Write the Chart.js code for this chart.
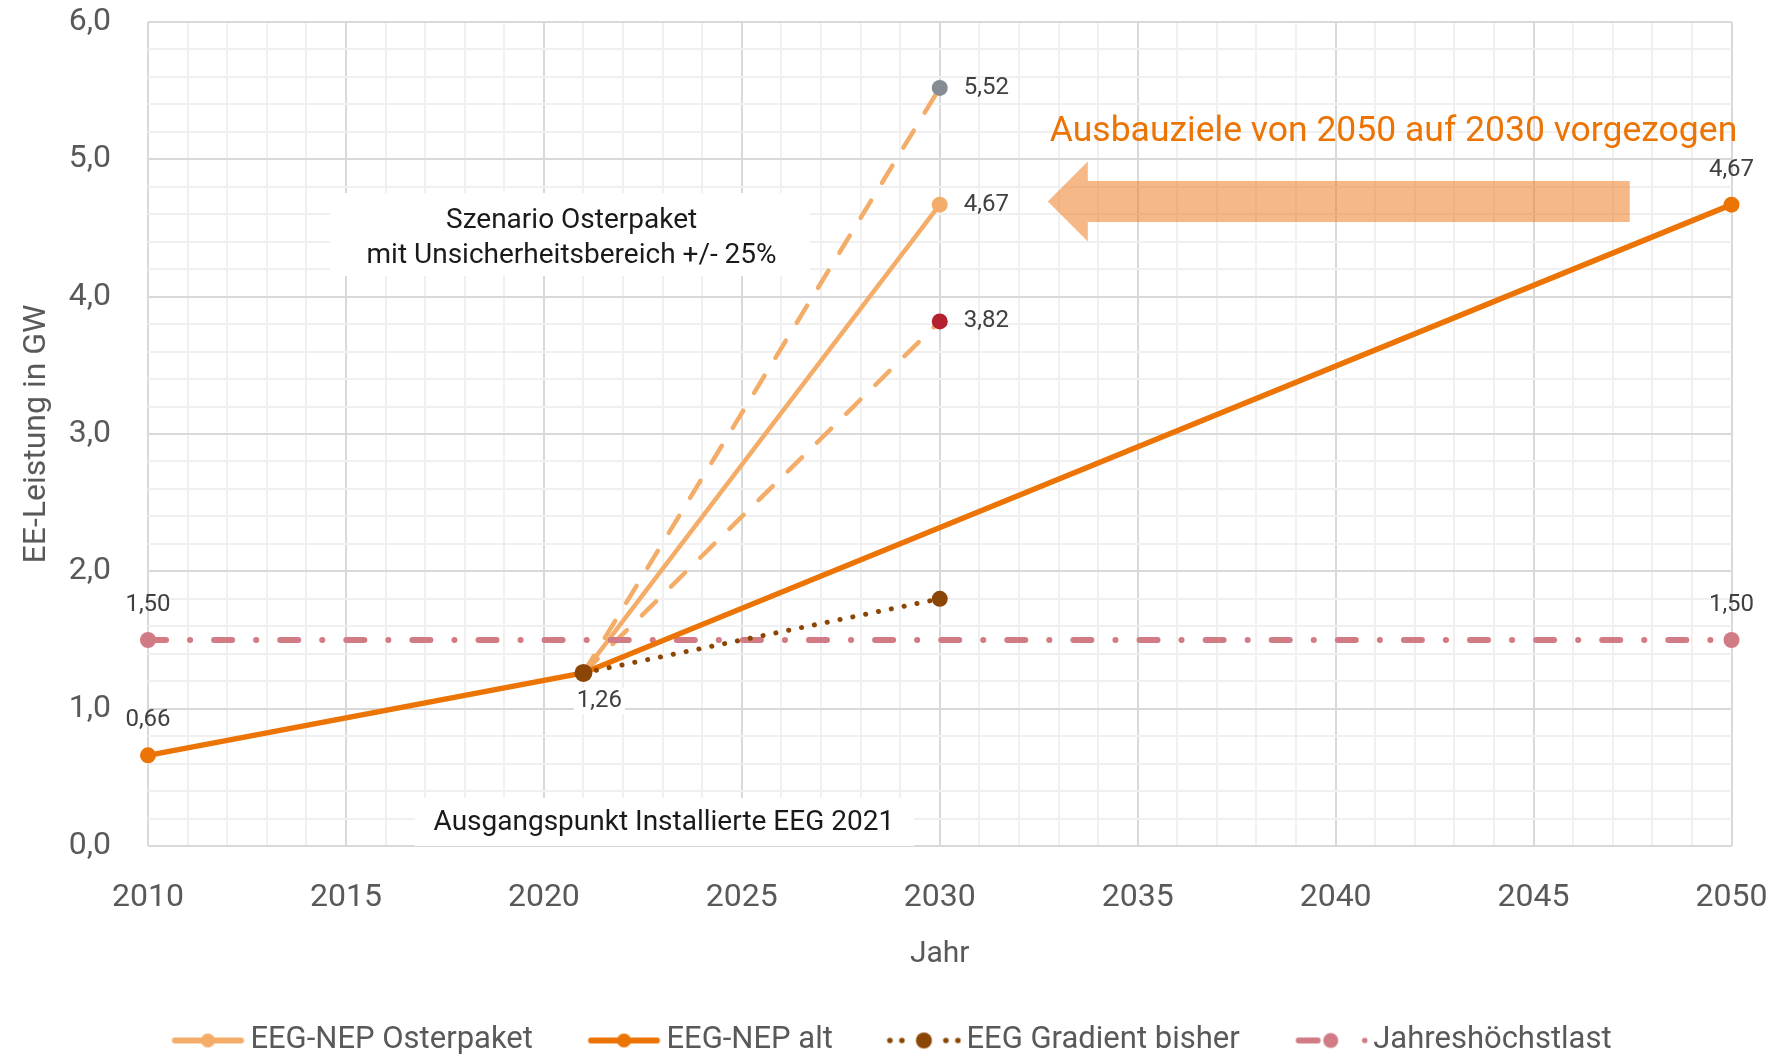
<!DOCTYPE html>
<html>
<head>
<meta charset="utf-8">
<script src="https://cdn.jsdelivr.net/npm/chart.js@4.4.1/dist/chart.umd.min.js"></script>
<style>
  html, body { margin: 0; padding: 0; background: #fff; }
  #wrap { width: 1774px; height: 1056px; }
</style>
</head>
<body>
<div id="wrap"><canvas id="eeChart"></canvas></div>
<script>
// EE-Leistung: Osterpaket vs. alter NEP-Pfad (GW)

const yearsAlt = [2010, 2021, 2050];
const nepAlt = [0.66, 1.26, 4.67];

const yearsOster = [2021, 2030];
const osterpaket = [1.26, 4.67];
const osterHoch = [1.26, 5.52];
const osterTief = [1.26, 3.82];

const yearsGradient = [2021, 2030];
const gradientBisher = [1.26, 1.80];

const yearsLast = [2010, 2050];
const jahreshoechstlast = [1.50, 1.50];

const legendNames = ['EEG-NEP Osterpaket', 'EEG-NEP alt', 'EEG Gradient bisher', 'Jahreshöchstlast'];

const C_OSTER = '#f4ad69';
const C_ALT = '#ec7404';
const C_BROWN = '#8b4606';
const C_PINK = '#d17b85';
const C_GREY = '#868c94';
const C_RED = '#b4202f';
const C_TEXT = '#595959';
const FONT = 'Roboto, "Noto Sans", sans-serif';

function pts(xs, ys) {
  return xs.map((x, i) => ({ x, y: ys[i] }));
}

function isWhole(v, step) {
  return Math.abs(v / step - Math.round(v / step)) < 1e-6;
}

function fmt(v, digits) {
  return v.toFixed(digits).replace('.', ',');
}

// legend icon: line sample + marker, drawn right of centre so text gap matches
function legendIcon(kind) {
  const c = document.createElement('canvas');
  c.width = 136;
  c.height = 24;
  const g = c.getContext('2d');
  const cx = 98.5, cy = 12;
  g.lineCap = 'round';
  function dot(x, r, col) {
    g.fillStyle = col;
    g.beginPath();
    g.arc(x, cy, r, 0, Math.PI * 2);
    g.fill();
  }
  function seg(x1, x2, col, w) {
    g.strokeStyle = col;
    g.lineWidth = w;
    g.beginPath();
    g.moveTo(x1, cy);
    g.lineTo(x2, cy);
    g.stroke();
  }
  if (kind === 0 || kind === 1) {
    const col = kind === 0 ? C_OSTER : C_ALT;
    seg(cx - 33, cx + 33, col, 6);
    dot(cx, 7, col);
  } else if (kind === 2) {
    [-34, -22, 22, 34].forEach((d) => dot(cx + d, 2.8, C_BROWN));
    dot(cx, 8, C_BROWN);
  } else {
    seg(cx - 32, cx - 13, C_PINK, 6);
    dot(cx, 7.5, C_PINK);
    dot(cx + 34, 2.8, C_PINK);
  }
  return c;
}

// notes in data units
const szenarioBox = { x1: 2014.6, x2: 2026.72, y1: 4.755, y2: 4.151 };
const szenarioText = ['Szenario Osterpaket', 'mit Unsicherheitsbereich +/- 25%'];
const szenarioAt = { x: 2020.7, y: [4.551, 4.296] };
const ausgangBox = { x1: 2016.74, x2: 2029.35, y1: 0.35, y2: 0 };
const ausgangText = 'Ausgangspunkt Installierte EEG 2021';
const ausgangAt = { x: 2023.03, y: 0.171 };
const arrowNote = { tip: 2032.73, head: 2033.74, end: 2047.43, y: 4.693, shaft: 0.149, half: 0.291 };
const arrowText = 'Ausbauziele von 2050 auf 2030 vorgezogen';
const arrowTextAt = { x: 2032.78, y: 5.134 };

const notesPlugin = {
  id: 'notes',
  beforeDatasetsDraw(chart) {
    const { ctx } = chart;
    const xs = chart.scales.x, ys = chart.scales.y;
    const X = (v) => xs.getPixelForValue(v);
    const Y = (v) => ys.getPixelForValue(v);
    ctx.save();
    ctx.fillStyle = '#ffffff';
    [szenarioBox, ausgangBox].forEach((b) => {
      ctx.fillRect(X(b.x1), Y(b.y1), X(b.x2) - X(b.x1), Y(b.y2) - Y(b.y1));
    });

    ctx.fillStyle = 'rgba(238,128,40,0.56)';
    ctx.beginPath();
    ctx.moveTo(X(arrowNote.tip), Y(arrowNote.y));
    ctx.lineTo(X(arrowNote.head), Y(arrowNote.y + arrowNote.half));
    ctx.lineTo(X(arrowNote.head), Y(arrowNote.y + arrowNote.shaft));
    ctx.lineTo(X(arrowNote.end), Y(arrowNote.y + arrowNote.shaft));
    ctx.lineTo(X(arrowNote.end), Y(arrowNote.y - arrowNote.shaft));
    ctx.lineTo(X(arrowNote.head), Y(arrowNote.y - arrowNote.shaft));
    ctx.lineTo(X(arrowNote.head), Y(arrowNote.y - arrowNote.half));
    ctx.closePath();
    ctx.fill();

    ctx.fillStyle = '#1a1a1a';
    ctx.font = '28px ' + FONT;
    ctx.textAlign = 'center';
    ctx.textBaseline = 'middle';
    szenarioText.forEach((t, i) => ctx.fillText(t, X(szenarioAt.x), Y(szenarioAt.y[i])));
    ctx.fillText(ausgangText, X(ausgangAt.x), Y(ausgangAt.y));

    ctx.fillStyle = C_ALT;
    ctx.font = '35.5px ' + FONT;
    ctx.textAlign = 'left';
    ctx.textBaseline = 'alphabetic';
    ctx.fillText(arrowText, X(arrowTextAt.x), Y(arrowTextAt.y));
    ctx.restore();
  },
  afterDatasetsDraw(chart) {
    const { ctx } = chart;
    // [dataset index, point index, placement]
    const labelled = [
      [1, 0, 'above'], [1, 2, 'above'], [2, 0, 'above'], [2, 1, 'above'],
      [0, 0, 'below'], [4, 1, 'right'], [3, 1, 'right'], [5, 1, 'right']
    ];
    ctx.save();
    ctx.font = '24px ' + FONT;
    ctx.textBaseline = 'middle';
    labelled.forEach(([d, i, where]) => {
      const el = chart.getDatasetMeta(d).data[i];
      const v = chart.data.datasets[d].data[i].y;
      const txt = fmt(v, 2);
      let x = el.x, y = el.y;
      if (where === 'above') {
        ctx.textAlign = 'center';
        y -= 35;
      } else if (where === 'right') {
        ctx.textAlign = 'left';
        x += 24;
      } else {
        ctx.textAlign = 'center';
        x += 16;
        y += 28;
        const w = ctx.measureText(txt).width;
        ctx.fillStyle = '#ffffff';
        ctx.fillRect(x - w / 2 - 3, y - 13, w + 6, 26);
      }
      ctx.fillStyle = '#404040';
      ctx.fillText(txt, x, y);
    });
    ctx.restore();
  }
};

const endMarker = (r) => (c) => (c.dataIndex === 0 ? 0 : r);

function noScalePadding(s) {
  s.paddingTop = 0;
  s.paddingBottom = 0;
  s.paddingLeft = 0;
  s.paddingRight = 0;
}

const chart = new Chart(document.getElementById('eeChart'), {
  type: 'line',
  data: {
    datasets: [
      {
        label: legendNames[2],
        data: pts(yearsGradient, gradientBisher),
        borderColor: C_BROWN,
        backgroundColor: C_BROWN,
        borderWidth: 5,
        borderDash: [0.1, 13],
        borderCapStyle: 'round',
        pointRadius: (c) => (c.dataIndex === 0 ? 9 : 8),
        pointBorderWidth: 0,
        order: 0
      },
      {
        label: legendNames[1],
        data: pts(yearsAlt, nepAlt),
        borderColor: C_ALT,
        backgroundColor: C_ALT,
        borderWidth: 5.5,
        pointRadius: 8,
        pointBorderWidth: 0,
        order: 1
      },
      {
        label: legendNames[3],
        data: pts(yearsLast, jahreshoechstlast),
        borderColor: C_PINK,
        backgroundColor: C_PINK,
        borderWidth: 6,
        borderDash: [18, 24, 0.1, 24],
        borderCapStyle: 'round',
        pointRadius: 8,
        pointBorderWidth: 0,
        order: 2
      },
      {
        label: legendNames[0],
        data: pts(yearsOster, osterpaket),
        borderColor: C_OSTER,
        backgroundColor: C_OSTER,
        borderWidth: 4.5,
        pointRadius: endMarker(8),
        pointBorderWidth: 0,
        order: 3
      },
      {
        label: 'Osterpaket +25%',
        data: pts(yearsOster, osterHoch),
        borderColor: C_OSTER,
        backgroundColor: C_GREY,
        borderWidth: 4.5,
        borderDash: [20, 21],
        borderCapStyle: 'round',
        pointRadius: endMarker(8),
        pointBorderWidth: 0,
        order: 4
      },
      {
        label: 'Osterpaket -25%',
        data: pts(yearsOster, osterTief),
        borderColor: C_OSTER,
        backgroundColor: C_RED,
        borderWidth: 4.5,
        borderDash: [20, 21],
        borderCapStyle: 'round',
        pointRadius: endMarker(8),
        pointBorderWidth: 0,
        order: 5
      }
    ]
  },
  options: {
    responsive: true,
    maintainAspectRatio: false,
    animation: false,
    datasets: { line: { clip: false, tension: 0 } },
    layout: { padding: { top: 22, right: 42.5, left: 0, bottom: -10 } },
    scales: {
      x: {
        type: 'linear',
        min: 2010,
        max: 2050,
        afterFit: (s) => { s.height = 176; noScalePadding(s); },
        grid: {
          drawTicks: false,
          lineWidth: 2,
          color: (c) => (isWhole(c.tick.value, 5) ? '#d9d9d9' : '#f0f0f0')
        },
        border: { display: false },
        ticks: {
          stepSize: 1,
          autoSkip: false,
          maxRotation: 0,
          padding: 33,
          color: C_TEXT,
          font: { family: FONT, size: 32 },
          callback: (v) => (isWhole(v, 5) ? String(Math.round(v)) : '')
        },
        title: {
          display: true,
          text: 'Jahr',
          color: C_TEXT,
          font: { family: FONT, size: 30 },
          padding: { top: 0, bottom: 50 }
        }
      },
      y: {
        min: 0,
        max: 6,
        afterFit: (s) => { s.width = 148; noScalePadding(s); },
        grid: {
          drawTicks: false,
          lineWidth: 2,
          color: (c) => (isWhole(c.tick.value, 1) ? '#d9d9d9' : '#f0f0f0')
        },
        border: { display: false },
        ticks: {
          stepSize: 0.2,
          autoSkip: false,
          padding: 37,
          color: C_TEXT,
          font: { family: FONT, size: 32 },
          callback: (v) => (isWhole(v, 1) ? fmt(v, 1) : '')
        },
        title: {
          display: true,
          text: 'EE-Leistung in GW',
          color: C_TEXT,
          font: { family: FONT, size: 32 },
          padding: { top: 18, bottom: 0 }
        }
      }
    },
    plugins: {
      tooltip: { enabled: false },
      legend: {
        position: 'bottom',
        labels: {
          usePointStyle: true,
          pointStyleWidth: 115,
          padding: 3,
          color: C_TEXT,
          font: { family: FONT, size: 31, lineHeight: 1 },
          generateLabels: () => legendNames.map((name, k) => ({
            text: name,
            pointStyle: legendIcon(k),
            fillStyle: 'transparent',
            strokeStyle: 'transparent',
            lineWidth: 0,
            fontColor: C_TEXT,
            hidden: false
          }))
        }
      }
    }
  },
  plugins: [notesPlugin]
});
</script>
</body>
</html>
